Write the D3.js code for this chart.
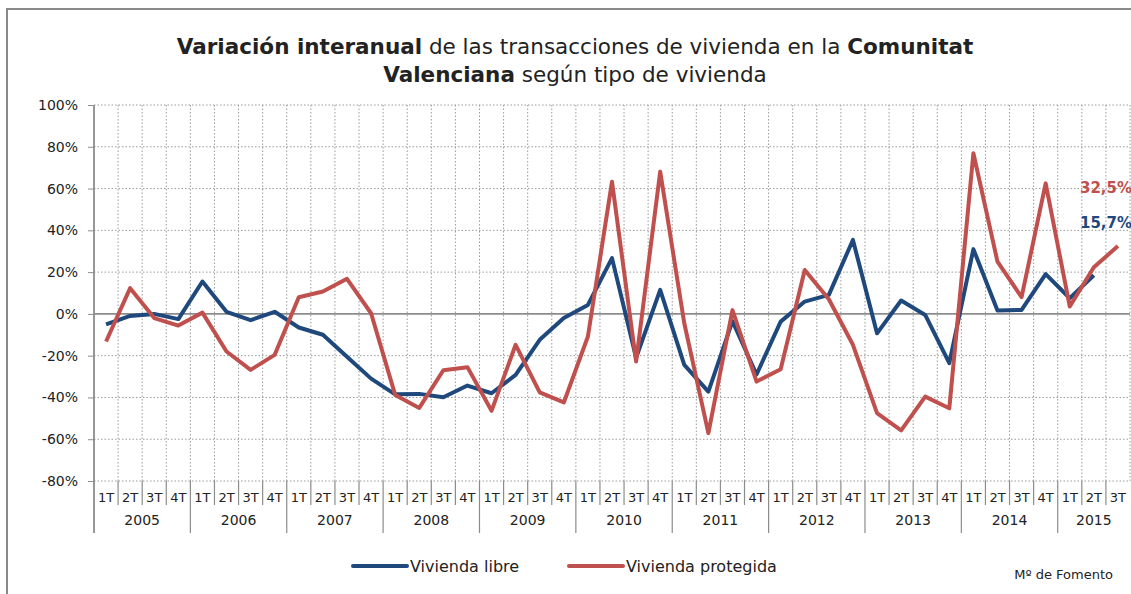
<!DOCTYPE html>
<html>
<head>
<meta charset="utf-8">
<title>Variación interanual</title>
<script src="https://d3js.org/d3.v7.min.js"></script>
<style>
body { margin: 0; background: #fff; }
text { font-family: "Century Gothic", "URW Gothic", "DejaVu Sans", sans-serif; fill: #222; }
.grid line { stroke: #9a9a9a; stroke-dasharray: 1.5 2; stroke-width: 1; }
.sep { stroke: #8c8c8c; stroke-width: 1.2; }
.line { fill: none; stroke-width: 4; stroke-linejoin: round; }
</style>
</head>
<body>
<div id="chart"></div>
<script>

// categories
var years = ["2005", "2006", "2007", "2008", "2009", "2010", "2011", "2012", "2013", "2014", "2015"];
var quarters = ["1T", "2T", "3T", "4T"];
var yTicks = [-80, -60, -40, -20, 0, 20, 40, 60, 80, 100];

// % variation
var libre = [-5, -1, 0, -2.5, 15.5, 1, -3, 1, -6.5, -10, -20.5, -31,
  -38.5, -38.3, -39.9, -34.3, -38, -29.2, -12.4, -2, 4.3, 26.7, -21, 11.5,
  -24.4, -37.2, -3.5, -29, -3.7, 5.9, 9.1, 35.4, -9.3, 6.4, -0.5, -23.6,
  31, 1.6, 1.9, 19, 7.5, 18.5];
var protegida = [-13.2, 12.3, -2, -5.6, 0.6, -18, -26.8, -19.6, 8, 10.7, 16.8, 0.3,
  -38.8, -45, -27, -25.5, -46.4, -14.8, -37.6, -42.4, -10.8, 63.3, -22.8, 68.1,
  -4.5, -57.1, 1.8, -32.4, -26.5, 21, 7, -14.8, -47.5, -55.8, -39.6, -45.2,
  76.9, 25, 8, 62.5, 3.5, 22.3, 32.5];
var lastLabels = ["15,7%", "32,5%"];

// 2015 only goes to 3T
var periods = [];
years.forEach(function(y) {
  quarters.forEach(function(q) {
    if (y == "2015" && q == "4T") return;
    periods.push({year: y, q: q, key: y + "-" + q});
  });
});

var W = 1131, H = 594;
var plot = {left: 94, right: 1130, top: 105, bottom: 481};

var svg = d3.select("#chart").append("svg")
    .attr("width", W)
    .attr("height", H);

// outer frame
svg.append("rect")
    .attr("x", 7).attr("y", 9)
    .attr("width", W + 10).attr("height", H + 10)
    .attr("fill", "none")
    .attr("stroke", "#8a8a8a")
    .attr("stroke-width", 2);

var x = d3.scaleBand()
    .domain(periods.map(function(d) { return d.key; }))
    .range([plot.left, plot.right])
    .padding(0);

var y = d3.scaleLinear()
    .domain([-80, 100])
    .range([plot.bottom, plot.top]);

function cx(i) { return x(periods[i].key) + x.bandwidth() / 2; }

// title
var title = svg.append("text")
    .attr("text-anchor", "middle")
    .style("font-size", "21.5px");
var t1 = title.append("tspan").attr("x", 575).attr("y", 54);
t1.append("tspan").style("font-weight", "bold").text("Variación interanual");
t1.append("tspan").text("  de las transacciones de vivienda en la ");
t1.append("tspan").style("font-weight", "bold").text("Comunitat");
var t2 = title.append("tspan").attr("x", 575).attr("y", 82);
t2.append("tspan").style("font-weight", "bold").text("Valenciana");
t2.append("tspan").text(" según tipo de vivienda");

// horizontal grid
var grid = svg.append("g").attr("class", "grid");
grid.selectAll(".h")
    .data(yTicks.filter(function(d) { return d != 0; }))
  .enter().append("line")
    .attr("class", "h")
    .attr("x1", plot.left).attr("x2", plot.right)
    .attr("y1", function(d) { return y(d); })
    .attr("y2", function(d) { return y(d); });

// vertical grid
grid.selectAll(".v")
    .data(periods.slice(1))
  .enter().append("line")
    .attr("class", "v")
    .attr("x1", function(d) { return x(d.key); })
    .attr("x2", function(d) { return x(d.key); })
    .attr("y1", plot.top).attr("y2", plot.bottom);
grid.append("line")
    .attr("x1", plot.right).attr("x2", plot.right)
    .attr("y1", plot.top).attr("y2", plot.bottom);

// zero line
svg.append("line")
    .attr("class", "sep")
    .attr("x1", plot.left).attr("x2", plot.right)
    .attr("y1", y(0)).attr("y2", y(0))
    .style("stroke-width", 1.8);

// y axis
var yAxis = svg.append("g")
    .attr("transform", "translate(" + plot.left + ",0)")
    .call(d3.axisLeft(y)
      .tickValues(yTicks)
      .tickSize(6)
      .tickPadding(10)
      .tickFormat(function(d) { return d + "%"; }));
yAxis.select(".domain").remove();
yAxis.selectAll(".tick line").attr("stroke", "#8c8c8c");
yAxis.selectAll(".tick text")
    .style("font-size", "14px");
svg.append("line")
    .attr("class", "sep")
    .attr("x1", plot.left).attr("x2", plot.left)
    .attr("y1", plot.top).attr("y2", 533)
    .style("stroke-width", 1.8);

// x axis: quarter row and separators
svg.append("g")
    .selectAll("line")
    .data(periods.slice(1))
  .enter().append("line")
    .attr("class", "sep")
    .attr("x1", function(d) { return x(d.key); })
    .attr("x2", function(d) { return x(d.key); })
    .attr("y1", plot.bottom)
    .attr("y2", function(d) { return d.q == "1T" ? 533 : 505; });

svg.append("g")
    .selectAll("text")
    .data(periods)
  .enter().append("text")
    .attr("x", function(d) { return x(d.key) + x.bandwidth() / 2; })
    .attr("y", 502)
    .attr("text-anchor", "middle")
    .style("font-size", "13px")
    .text(function(d) { return d.q; });

// x axis: year row
svg.append("g")
    .selectAll("text")
    .data(years)
  .enter().append("text")
    .attr("x", function(d) {
      var ps = periods.filter(function(p) { return p.year == d; });
      var a = x(ps[0].key), b = x(ps[ps.length - 1].key) + x.bandwidth();
      return (a + b) / 2;
    })
    .attr("y", 525)
    .attr("text-anchor", "middle")
    .style("font-size", "14px")
    .text(function(d) { return d; });

// lines
var line = d3.line()
    .x(function(d, i) { return cx(i); })
    .y(function(d) { return y(d); });

var series = [
  {name: "Vivienda libre", values: libre, color: "#1f497d"},
  {name: "Vivienda protegida", values: protegida, color: "#c0504d"}
];

svg.selectAll(".line")
    .data(series)
  .enter().append("path")
    .attr("class", "line")
    .attr("stroke", function(d) { return d.color; })
    .attr("d", function(d) { return line(d.values); });

// last value labels
svg.append("text")
    .attr("x", 1080).attr("y", 193)
    .style("font-size", "15px").style("font-weight", "bold")
    .style("fill", "#c0504d")
    .text(lastLabels[1]);
svg.append("text")
    .attr("x", 1080).attr("y", 228)
    .style("font-size", "15px").style("font-weight", "bold")
    .style("fill", "#1f497d")
    .text(lastLabels[0]);

// legend
var legX = [353, 569];
var leg = svg.selectAll(".leg")
    .data(series)
  .enter().append("g")
    .attr("class", "leg")
    .attr("transform", function(d, i) { return "translate(" + legX[i] + ",566)"; });
leg.append("line")
    .attr("x1", 0).attr("x2", 54)
    .attr("stroke", function(d) { return d.color; })
    .attr("stroke-width", 4)
    .attr("stroke-linecap", "round");
leg.append("text")
    .attr("x", 57).attr("y", 6)
    .style("font-size", "16px")
    .text(function(d) { return d.name; });

// source
svg.append("text")
    .attr("x", 1113).attr("y", 579)
    .attr("text-anchor", "end")
    .style("font-size", "13px")
    .text("Mº de Fomento");

</script>
</body>
</html>
